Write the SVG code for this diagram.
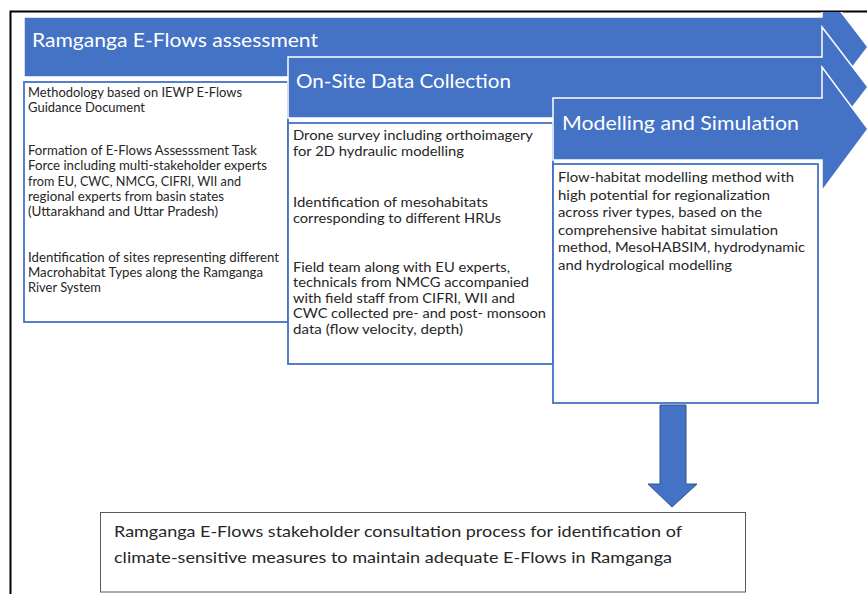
<svg xmlns="http://www.w3.org/2000/svg" width="867" height="594" viewBox="0 0 867 594">
  <style>
    .arrow { fill: #4472C4; stroke: #FFFFFF; stroke-width: 1.5; }
    .hdr { font-family: Lato, "Open Sans", sans-serif; font-size: 19px; fill: #FFFFFF; }
    .box { fill: #FFFFFF; stroke: #4472C4; stroke-width: 1.8; }
    .txt { font-family: Lato, "Open Sans", sans-serif; font-size: 13px; fill: #262626; }
    .txt3 { font-family: Lato, "Open Sans", sans-serif; font-size: 14px; fill: #262626; }
    .btxt { font-family: Lato, "Open Sans", sans-serif; font-size: 16px; fill: #262626; }
  </style>
  <defs>
    <clipPath id="frameClip">
      <rect x="11" y="12" width="856" height="582"/>
    </clipPath>
  </defs>
  <rect x="0" y="0" width="867" height="594" fill="#FFFFFF"/>
  <path d="M10.5,594 V11.5 H867" fill="none" stroke="#000000" stroke-width="2"/>

  <g clip-path="url(#frameClip)">
    <g id="step1">
      <path class="arrow" d="M24,17 H822 V-13 L868,47 L822,107 V77 H24 Z"/>
      <text class="hdr" x="32" y="47" textLength="286" lengthAdjust="spacingAndGlyphs">Ramganga E-Flows assessment</text>
    </g>
    <g id="box1">
      <rect class="box" x="24" y="82" width="264" height="240"/>
      <text class="txt" x="28" y="97" textLength="214" lengthAdjust="spacingAndGlyphs">Methodology based on IEWP E-Flows</text>
      <text class="txt" x="28" y="112" textLength="117" lengthAdjust="spacingAndGlyphs">Guidance Document</text>
      <text class="txt" x="28" y="155" textLength="229" lengthAdjust="spacingAndGlyphs">Formation of E-Flows Assesssment Task</text>
      <text class="txt" x="28" y="170" textLength="239" lengthAdjust="spacingAndGlyphs">Force including multi-stakeholder experts</text>
      <text class="txt" x="28" y="186" textLength="213" lengthAdjust="spacingAndGlyphs">from EU, CWC, NMCG, CIFRI, WII and</text>
      <text class="txt" x="28" y="201" textLength="196" lengthAdjust="spacingAndGlyphs">regional experts from basin states</text>
      <text class="txt" x="28" y="216" textLength="190" lengthAdjust="spacingAndGlyphs">(Uttarakhand and Uttar Pradesh)</text>
      <text class="txt" x="28" y="262" textLength="251" lengthAdjust="spacingAndGlyphs">Identification of sites representing different</text>
      <text class="txt" x="28" y="277" textLength="235" lengthAdjust="spacingAndGlyphs">Macrohabitat Types along the Ramganga</text>
      <text class="txt" x="28" y="292" textLength="73" lengthAdjust="spacingAndGlyphs">River System</text>
    </g>
    <g id="step2">
      <path class="arrow" d="M288,57 H822 V27 L868,87 L822,147 V118 H288 Z"/>
      <text class="hdr" x="296" y="88" textLength="215" lengthAdjust="spacingAndGlyphs">On-Site Data Collection</text>
    </g>
    <g id="box2">
      <rect class="box" x="288" y="123" width="265" height="241"/>
      <text class="txt" x="293" y="140" textLength="240" lengthAdjust="spacingAndGlyphs">Drone survey including orthoimagery</text>
      <text class="txt" x="293" y="156" textLength="171" lengthAdjust="spacingAndGlyphs">for 2D hydraulic modelling</text>
      <text class="txt" x="293" y="207" textLength="195" lengthAdjust="spacingAndGlyphs">Identification of mesohabitats</text>
      <text class="txt" x="293" y="223" textLength="208" lengthAdjust="spacingAndGlyphs">corresponding to different HRUs</text>
      <text class="txt" x="293" y="272" textLength="217" lengthAdjust="spacingAndGlyphs">Field team along with EU experts,</text>
      <text class="txt" x="293" y="287" textLength="236" lengthAdjust="spacingAndGlyphs">technicals from NMCG accompanied</text>
      <text class="txt" x="293" y="303" textLength="222" lengthAdjust="spacingAndGlyphs">with field staff from CIFRI, WII and</text>
      <text class="txt" x="293" y="318" textLength="253" lengthAdjust="spacingAndGlyphs">CWC collected pre- and post- monsoon</text>
      <text class="txt" x="293" y="334" textLength="170" lengthAdjust="spacingAndGlyphs">data (flow velocity, depth)</text>
    </g>
    <g id="step3">
      <path class="arrow" d="M553,98 H822 V67 L868,129 L822,191 V160 H553 Z"/>
      <text class="hdr" x="562" y="130" textLength="237" lengthAdjust="spacingAndGlyphs">Modelling and Simulation</text>
    </g>
    <g id="box3">
      <rect class="box" x="553" y="164" width="265" height="239"/>
      <text class="txt3" x="558" y="182" textLength="236" lengthAdjust="spacingAndGlyphs">Flow-habitat modelling method with</text>
      <text class="txt3" x="558" y="199.5" textLength="212" lengthAdjust="spacingAndGlyphs">high potential for regionalization</text>
      <text class="txt3" x="558" y="217" textLength="204" lengthAdjust="spacingAndGlyphs">across river types, based on the</text>
      <text class="txt3" x="558" y="234.5" textLength="220" lengthAdjust="spacingAndGlyphs">comprehensive habitat simulation</text>
      <text class="txt3" x="558" y="252" textLength="247" lengthAdjust="spacingAndGlyphs">method, MesoHABSIM, hydrodynamic</text>
      <text class="txt3" x="558" y="270" textLength="174" lengthAdjust="spacingAndGlyphs">and hydrological modelling</text>
    </g>
  </g>

  <g id="connectors">
    <path d="M660,405 H686 V484 H697 L672,507 L648,484 H660 Z" fill="#4472C4" stroke="#2F528F" stroke-width="1"/>
  </g>

  <g id="outcome">
    <rect x="100.5" y="512.5" width="645" height="79.5" fill="#FFFFFF" stroke="#595959" stroke-width="1"/>
    <text class="btxt" x="114" y="537" textLength="568" lengthAdjust="spacingAndGlyphs">Ramganga E-Flows stakeholder consultation process for identification of</text>
    <text class="btxt" x="114" y="563" textLength="558" lengthAdjust="spacingAndGlyphs">climate-sensitive measures to maintain adequate E-Flows in Ramganga</text>
  </g>
</svg>
